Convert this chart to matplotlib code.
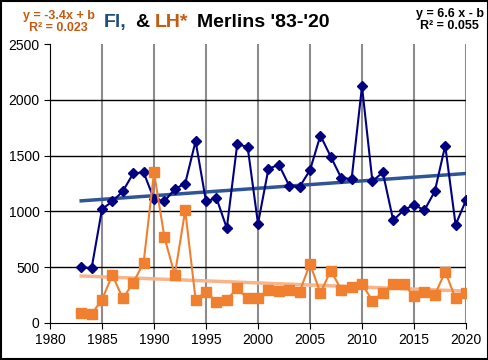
import matplotlib
matplotlib.use("Agg")
import matplotlib.pyplot as plt
import numpy as np

plt.rcParams["font.family"] = ["Liberation Sans", "DejaVu Sans"]

years = list(range(1983, 2021))
# Fl (blue) counts
fl = [500, 490, 1020, 1090, 1180, 1340, 1350, 1110, 1090, 1200,
      1250, 1630, 1090, 1120, 850, 1600, 1580, 890, 1380, 1420,
      1230, 1220, 1370, 1680, 1490, 1300, 1290, 2120, 1270, 1350,
      920, 1010, 1060, 1010, 1180, 1590, 880, 1100]
# LH* (orange) counts
lh = [90, 80, 210, 430, 220, 360, 540, 1350, 770, 430,
      1010, 210, 280, 190, 210, 310, 220, 220, 300, 290,
      300, 280, 530, 270, 470, 300, 320, 350, 200, 270,
      350, 350, 240, 280, 250, 460, 220, 270]

x = np.array(years)
fl_fit = np.polyval(np.polyfit(x, fl, 1), x)
lh_fit = np.polyval(np.polyfit(x, lh, 1), x)

fig = plt.figure(figsize=(4.89, 3.6), dpi=100)
ax = fig.add_axes([50 / 489, 37 / 360, 416 / 489, 279 / 360])

for xv in range(1985, 2021, 5):
    ax.axvline(xv, color="#8C8C8C", lw=1.5, zorder=0)
for yv in range(500, 2001, 500):
    ax.axhline(yv, color="black", lw=1, zorder=0)

ax.plot(x, fl_fit, color="#2F5597", lw=2.5, zorder=2)
ax.plot(x, lh_fit, color="#F8B58C", lw=2.5, zorder=2)
ax.plot(x, fl, "-D", color="#000080", lw=1.5, ms=5, zorder=3)
ax.plot(x, lh, "-s", color="#F08030", lw=1.5, ms=6.5, zorder=3)

ax.set_xlim(1980, 2020)
ax.set_ylim(0, 2500)
ax.set_xticks(range(1980, 2021, 5))
ax.set_yticks(range(0, 2501, 500))
ax.tick_params(direction="out", length=4, labelsize=10, color="black")
for s in ["top", "right"]:
    ax.spines[s].set_visible(False)

ty = 0.938
fs = 14
fig.text(104 / 489, ty, "Fl,", color="#1F4E79", fontsize=fs, fontweight="bold", ha="left", va="center")
fig.text(135 / 489, ty, "&", color="black", fontsize=fs, fontweight="bold", ha="left", va="center")
fig.text(155 / 489, ty, "LH*", color="#C55A11", fontsize=fs, fontweight="bold", ha="left", va="center")
fig.text(197 / 489, ty, "Merlins '83-'20", color="black", fontsize=fs, fontweight="bold", ha="left", va="center")

fig.text(0.12, 0.94, "y = -3.4x + b\nR\u00b2 = 0.023", color="#C55A11", fontsize=9,
         fontweight="bold", ha="center", va="center", linespacing=1.0)
fig.text(0.92, 0.945, "y = 6.6 x - b\nR\u00b2 = 0.055", color="black", fontsize=9,
         fontweight="bold", ha="center", va="center", linespacing=1.0)

fig.patches.append(plt.Rectangle((0.002, 0.003), 0.995, 0.994, transform=fig.transFigure,
                                 fill=False, edgecolor="black", lw=1.5))

fig.savefig("out.png", dpi=100)
